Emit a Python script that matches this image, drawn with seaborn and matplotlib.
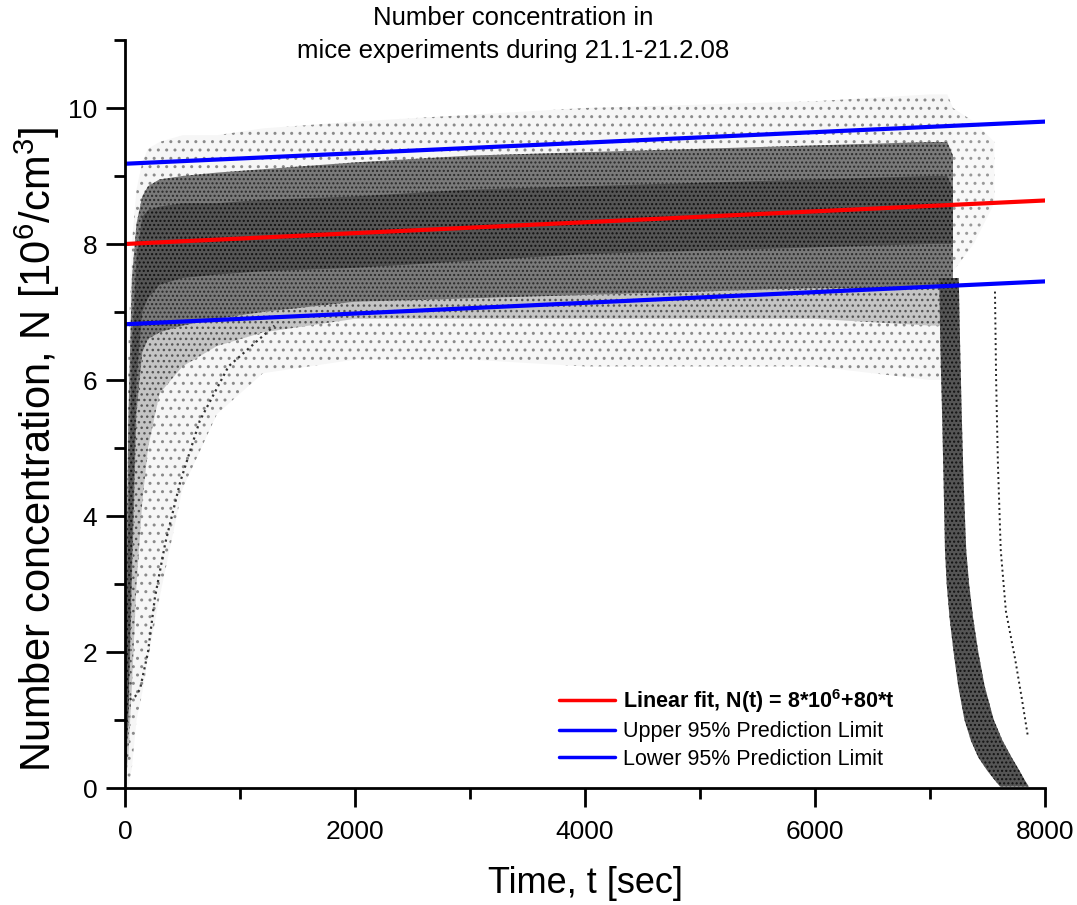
import numpy as np
import pandas as pd
import matplotlib
matplotlib.use("Agg")
import matplotlib.pyplot as plt
from matplotlib.ticker import MultipleLocator
import seaborn as sns

# --- fit and prediction limits (N in 10^6/cm^3, t in s) ---
fit_t = [0, 8000]
fit_n = [8.0, 8.64]
upper_n = [9.18, 9.80]
lower_n = [6.82, 7.45]

cloud_t = [0, 30, 60, 100, 150, 200, 300, 500, 800, 1200, 2000, 3000, 4000, 5000, 6000, 7000, 7150, 7200]
halo_hi = [1.8, 6.5, 8.0, 8.8, 9.2, 9.4, 9.5, 9.6, 9.6, 9.7, 9.8, 9.9, 10.0, 10.05, 10.1, 10.2, 10.2, 10.0]
halo_lo = [0.0, 0.0, 0.3, 1.0, 1.4, 1.9, 2.8, 4.4, 5.5, 6.1, 6.3, 6.3, 6.2, 6.2, 6.2, 6.0, 6.0, 6.0]
fan_lo = [0.0, 0.5, 1.5, 3.0, 4.2, 5.0, 5.8, 6.2, 6.5, 6.7, 6.9, 6.9, 6.9, 6.9, 6.9, 6.8, 6.8, 6.8]
core_lo = [0.0, 1.0, 3.0, 5.5, 6.4, 6.6, 6.7, 6.8, 6.9, 7.0, 7.15, 7.2, 7.25, 7.3, 7.35, 7.35, 7.4, 7.4]
core_hi = [1.5, 5.5, 7.5, 8.3, 8.7, 8.85, 8.95, 9.0, 9.05, 9.1, 9.2, 9.3, 9.35, 9.4, 9.45, 9.5, 9.5, 9.3]
dark_lo = [0.0, 1.2, 3.5, 6.0, 7.0, 7.2, 7.4, 7.5, 7.55, 7.6, 7.65, 7.75, 7.85, 7.9, 7.95, 8.0, 8.0, 8.0]
dark_hi = [0.8, 4.0, 6.5, 7.8, 8.4, 8.5, 8.55, 8.6, 8.6, 8.65, 8.7, 8.8, 8.85, 8.9, 8.95, 9.0, 9.0, 8.8]

# sparse points left after the main run
tail_t = [7200, 7380, 7560]
tail_lo = [7.6, 8.0, 8.6]
tail_hi = [10.0, 9.8, 9.5]

# decay strands at the end of the run
decay_n = [7.5, 6.5, 5.5, 4.5, 3.5, 3.0, 2.5, 2.0, 1.5, 1.0, 0.7, 0.45, 0.25, 0.1, 0.02]
decay_t_left = [7080, 7090, 7105, 7118, 7130, 7145, 7170, 7205, 7245, 7300, 7355, 7420, 7500, 7570, 7610]
decay_t_right = [7250, 7262, 7276, 7292, 7315, 7340, 7375, 7420, 7475, 7555, 7630, 7710, 7780, 7830, 7860]

thin_t = [7565, 7575, 7590, 7615, 7660, 7740, 7800, 7852]
thin_n = [7.3, 6.0, 4.8, 3.5, 2.6, 1.9, 1.3, 0.75]

# slow rising trace at the start
rise_t = [40, 90, 130, 200, 260, 350, 480, 650, 900, 1300]
rise_n = [1.3, 1.35, 1.45, 2.0, 2.8, 3.6, 4.5, 5.4, 6.2, 6.8]

sns.set_style("ticks")
plt.rcParams["font.family"] = ["Liberation Sans", "DejaVu Sans"]
plt.rcParams["mathtext.fontset"] = "custom"
plt.rcParams["mathtext.rm"] = "Liberation Sans"
plt.rcParams["mathtext.bf"] = "Liberation Sans:bold"
plt.rcParams["hatch.linewidth"] = 1.0
plt.rcParams["text.color"] = "black"
plt.rcParams["axes.labelcolor"] = "black"

fig = plt.figure(figsize=(10.77, 9.05), dpi=100)
ax = fig.add_axes([125 / 1077, 1 - 788 / 905, 920 / 1077, 748 / 905])

# point cloud as layered density bands
ax.fill_between(cloud_t, halo_lo, halo_hi, facecolor="#f6f6f6", edgecolor="#8a8a8a",
                hatch="..", linewidth=0, zorder=1)
ax.fill_between(tail_t, tail_lo, tail_hi, facecolor="#f8f8f8", edgecolor="#999999",
                hatch="..", linewidth=0, zorder=1)
ax.fill_between(cloud_t, fan_lo, core_lo, facecolor="#c4c4c4", edgecolor="#555555",
                hatch="...", linewidth=0, zorder=2)
ax.fill_between(cloud_t, core_lo, core_hi, facecolor="#7a7a7a", edgecolor="#2a2a2a",
                hatch="....", linewidth=0, zorder=3)
ax.fill_between(cloud_t, dark_lo, dark_hi, facecolor="#555555", edgecolor="#111111",
                hatch="....", linewidth=0, zorder=4)
ax.fill_betweenx(decay_n, decay_t_left, decay_t_right, facecolor="#555555",
                 edgecolor="#111111", hatch="....", linewidth=0, zorder=3)

df_rise = pd.DataFrame({"t": rise_t, "n": rise_n})
sns.lineplot(data=df_rise, x="t", y="n", ax=ax, color="#333333", lw=1.6,
             linestyle=":", zorder=5)
df_thin = pd.DataFrame({"t": thin_t, "n": thin_n})
sns.lineplot(data=df_thin, x="t", y="n", ax=ax, color="#222222", lw=1.4,
             linestyle=":", zorder=5)

# fit lines
df_fit = pd.DataFrame({"t": fit_t, "fit": fit_n, "up": upper_n, "lo": lower_n})
sns.lineplot(data=df_fit, x="t", y="fit", ax=ax, color="#ff0000", lw=3,
             label=r"Linear fit, N(t) = 8*10$^{\mathbf{6}}$+80*t", zorder=6)
sns.lineplot(data=df_fit, x="t", y="up", ax=ax, color="#0000ff", lw=3,
             label="Upper 95% Prediction Limit", zorder=6)
sns.lineplot(data=df_fit, x="t", y="lo", ax=ax, color="#0000ff", lw=3,
             label="Lower 95% Prediction Limit", zorder=6)

ax.set_xlim(0, 8000)
ax.set_ylim(0, 11)
ax.xaxis.set_major_locator(MultipleLocator(2000))
ax.xaxis.set_minor_locator(MultipleLocator(1000))
ax.yaxis.set_major_locator(MultipleLocator(2))
ax.yaxis.set_minor_locator(MultipleLocator(1))
ax.tick_params(which="major", direction="out", length=14, width=2, labelsize=19, pad=6,
               color="black", labelcolor="black")
ax.tick_params(which="minor", direction="out", length=8, width=2, color="black")
ax.tick_params(axis="x", which="major", pad=9)
for s in ["top", "right"]:
    ax.spines[s].set_visible(False)
for s in ["left", "bottom"]:
    ax.spines[s].set_linewidth(2)
    ax.spines[s].set_color("black")
    ax.spines[s].set_zorder(10)

ax.set_xlabel("Time, t [sec]", fontsize=26, labelpad=16)
ax.set_ylabel("Number concentration, N [10$^6$/cm$^3$]", fontsize=30)
ax.yaxis.set_label_coords(-0.068, 0.453)

fig.text(513 / 1077, 1 - 6 / 905, "Number concentration in\nmice experiments during 21.1-21.2.08",
         ha="center", va="top", fontsize=18.5, linespacing=1.45)

leg = ax.legend(loc="upper left", bbox_to_anchor=(0.472, 0.135), frameon=False,
                fontsize=15.5, handlelength=2.6, handletextpad=0.35, labelspacing=0.3,
                borderpad=0, borderaxespad=0)
leg.get_texts()[0].set_fontweight("bold")
for h in leg.get_lines():
    h.set_linewidth(2.5)

fig.savefig("out.png", dpi=100)
